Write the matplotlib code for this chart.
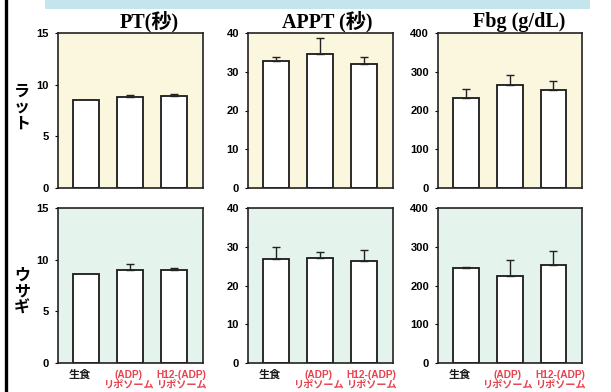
import numpy as np
import matplotlib
matplotlib.use('Agg')
import matplotlib.pyplot as plt
from matplotlib.patches import Rectangle
from matplotlib.lines import Line2D
from matplotlib.transforms import blended_transform_factory, offset_copy

# ── data ─────────────────────────────────
groups = ["生食", "(ADP)\nリポソーム", "H12-(ADP)\nリポソーム"]
group_colors = ["#1a1a1a", "#e5434f", "#e5434f"]
titles = ["PT(秒)", "APPT (秒)", "Fbg (g/dL)"]
species = ["ラット", "ウサギ"]

rat_pt = [8.5, 8.85, 8.95]
rat_pt_err = [0, 0.12, 0.18]
rat_appt = [32.9, 34.6, 32.1]
rat_appt_err = [1.0, 4.1, 1.7]
rat_fbg = [233, 265, 254]
rat_fbg_err = [23, 26, 22]

rab_pt = [8.6, 9.0, 9.0]
rab_pt_err = [0, 0.6, 0.2]
rab_appt = [26.9, 27.0, 26.3]
rab_appt_err = [3.1, 1.7, 2.9]
rab_fbg = [244, 225, 254]
rab_fbg_err = [5, 40, 35]

ymax = [15, 40, 400]
yticks = [[0, 5, 10, 15], [0, 10, 20, 30, 40], [0, 100, 200, 300, 400]]

rows = [
    [(rat_pt, rat_pt_err), (rat_appt, rat_appt_err), (rat_fbg, rat_fbg_err)],
    [(rab_pt, rab_pt_err), (rab_appt, rab_appt_err), (rab_fbg, rab_fbg_err)],
]
bg_colors = ["#fbf6de", "#e4f3ec"]

fig = plt.figure(figsize=(6.11, 3.92), dpi=100)
W, H = 611, 392

# left black rule and top banner
fig.add_artist(Line2D([5.5 / W, 5.5 / W], [0, 1], transform=fig.transFigure,
                      color='black', lw=2.4))
fig.add_artist(Rectangle((45 / W, 1 - 9 / H), 545 / W, 9 / H,
                         transform=fig.transFigure, facecolor='#c4e5ee',
                         edgecolor='none'))

lefts = [58, 248, 438]
widths = [145, 145, 144]
tops = [33, 208]
ax_h = 155

x = np.arange(3)
label_font = ['Liberation Sans', 'Noto Sans CJK JP']
label_shift = [-6, -2, 7]      # px, labels sit a bit off the bar centres
label_size = [8, 7.3, 7.3]

for r in range(2):
    for c in range(3):
        vals, errs = rows[r][c]
        ax = fig.add_axes([lefts[c] / W, 1 - (tops[r] + ax_h) / H,
                           widths[c] / W, ax_h / H])
        ax.set_facecolor(bg_colors[r])
        ax.bar(x, vals, width=0.59, color='white', edgecolor='#1a1a1a',
               linewidth=1.3, zorder=2)
        for i in range(3):
            if errs[i] > 0:
                ax.errorbar(x[i], vals[i], yerr=[[0], [errs[i]]], fmt='none',
                            ecolor='#222222', elinewidth=1.0, capsize=3,
                            capthick=1.0, zorder=3)
        ax.set_xlim(-0.63, 2.65)
        ax.set_ylim(0, ymax[c])
        ax.set_yticks(yticks[c])
        ax.set_xticks([])
        ax.tick_params(axis='y', direction='out', length=2.5, width=0.8,
                       pad=4, labelsize=8)
        for lab in ax.get_yticklabels():
            lab.set_fontweight('bold')
            lab.set_family('Liberation Sans')
        for sp in ax.spines.values():
            sp.set_linewidth(1.2)
            sp.set_color('#222222')
        if r == 1:
            trans = blended_transform_factory(ax.transData, ax.transAxes)
            for i in range(3):
                t = offset_copy(trans, fig=fig, x=label_shift[i] * 0.72,
                                y=-5, units='points')
                ax.text(x[i], 0, groups[i], transform=t, ha='center',
                        va='top', color=group_colors[i], fontsize=label_size[i],
                        fontweight='bold', family=label_font, linespacing=1.0)

# column titles
title_x = [149, 327, 519]
for t, tx in zip(titles, title_x):
    fig.text(tx / W, 1 - 22 / H, t, ha='center', va='center', fontsize=14.5,
             fontweight='bold', family=['Liberation Serif', 'Noto Sans CJK JP'])

# row labels, stacked vertically
label_y = [107, 291]
for s, ly in zip(species, label_y):
    fig.text(22 / W, 1 - ly / H, "\n".join(s), ha='center', va='center',
             fontsize=11.5, fontweight='bold', family='Noto Sans CJK JP',
             linespacing=1.05)

plt.savefig("out.png", dpi=100, facecolor='white')
